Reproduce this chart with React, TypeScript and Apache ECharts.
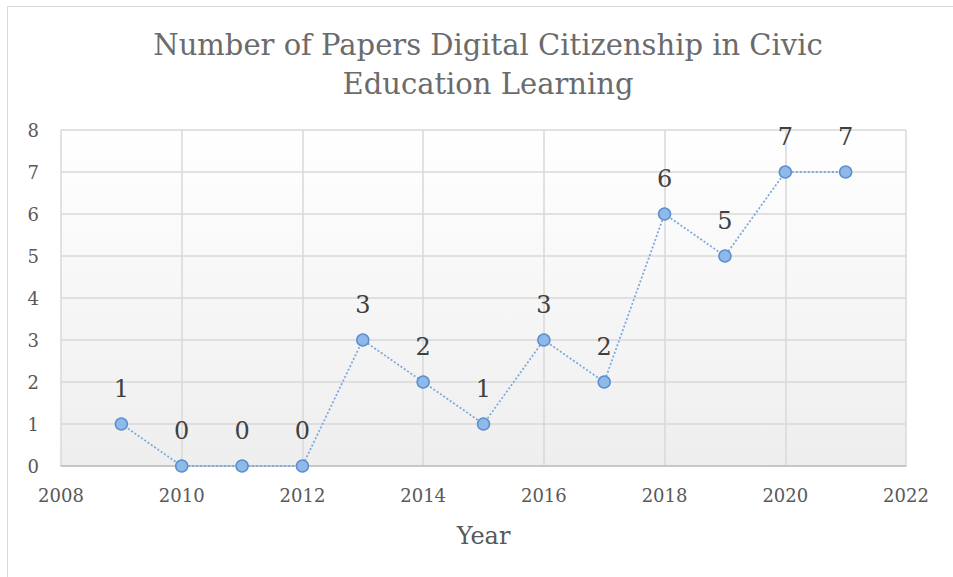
import React, { useEffect, useRef } from "react";
import * as echarts from "echarts";

const years = [2009, 2010, 2011, 2012, 2013, 2014, 2015, 2016, 2017, 2018, 2019, 2020, 2021];
const papers = [1, 0, 0, 0, 3, 2, 1, 3, 2, 6, 5, 7, 7];
const titleText = "Number of Papers Digital Citizenship in Civic\nEducation Learning";
const xAxisName = "Year";

const FONT = "'DejaVu Serif', serif";

export default function App() {
  const ref = useRef<HTMLDivElement>(null);
  useEffect(() => {
    if (!ref.current) return;
    const chart = echarts.init(ref.current, undefined, { renderer: "svg" });
    chart.setOption({
      animation: false,
      backgroundColor: "#ffffff",
      title: {
        text: titleText,
        left: 483,
        textAlign: "center",
        top: 20,
        textStyle: {
          fontFamily: FONT,
          fontSize: 29,
          fontWeight: "normal",
          color: "#6b6b6b",
          lineHeight: 39,
        },
      },
      graphic: [
        {
          type: "rect",
          shape: { x: 7.5, y: 6.5, width: 1000, height: 1000 },
          style: { fill: "none", stroke: "#d9d9d9", lineWidth: 1 },
          silent: true,
        },
      ],
      grid: {
        left: 61,
        right: 953 - 906,
        top: 130,
        bottom: 577 - 466,
        show: true,
        borderWidth: 0,
        backgroundColor: new echarts.graphic.LinearGradient(0, 0, 0, 1, [
          { offset: 0, color: "#ffffff" },
          { offset: 1, color: "#eeeeee" },
        ]),
      },
      xAxis: {
        type: "value",
        min: 2008,
        max: 2022,
        interval: 2,
        name: xAxisName,
        nameLocation: "middle",
        nameGap: 58,
        nameTextStyle: { fontFamily: FONT, fontSize: 24, color: "#595959" },
        axisLine: { show: true, lineStyle: { color: "#bfbfbf", width: 1.5 } },
        axisTick: { show: false },
        axisLabel: {
          fontFamily: FONT,
          fontSize: 18,
          color: "#595959",
          margin: 20,
          formatter: (v: number) => String(v),
        },
        splitLine: { show: true, lineStyle: { color: "#d9d9d9", width: 1.5 } },
      },
      yAxis: {
        type: "value",
        min: 0,
        max: 8,
        interval: 1,
        axisLine: { show: false },
        axisTick: { show: false },
        axisLabel: {
          fontFamily: FONT,
          fontSize: 18,
          color: "#595959",
          margin: 22,
        },
        splitLine: { show: true, lineStyle: { color: "#d9d9d9", width: 1.5 } },
      },
      series: [
        {
          type: "line",
          data: years.map((y, i) => [y, papers[i]]),
          symbol: "circle",
          symbolSize: 12,
          lineStyle: { color: "#7ea9dc", width: 1.8, type: [2, 2] },
          itemStyle: { color: "#8fb9e8", borderColor: "#5b8fcf", borderWidth: 1.5 },
          label: {
            show: true,
            position: "top",
            distance: 16,
            fontFamily: FONT,
            fontSize: 24,
            color: "#404040",
            formatter: (p: any) => String(p.value[1]),
          },
        },
      ],
    });
    return () => chart.dispose();
  }, []);
  return (
    <div
      ref={ref}
      style={{ position: "fixed", left: 0, top: 0, width: 953, height: 577 }}
    />
  );
}
